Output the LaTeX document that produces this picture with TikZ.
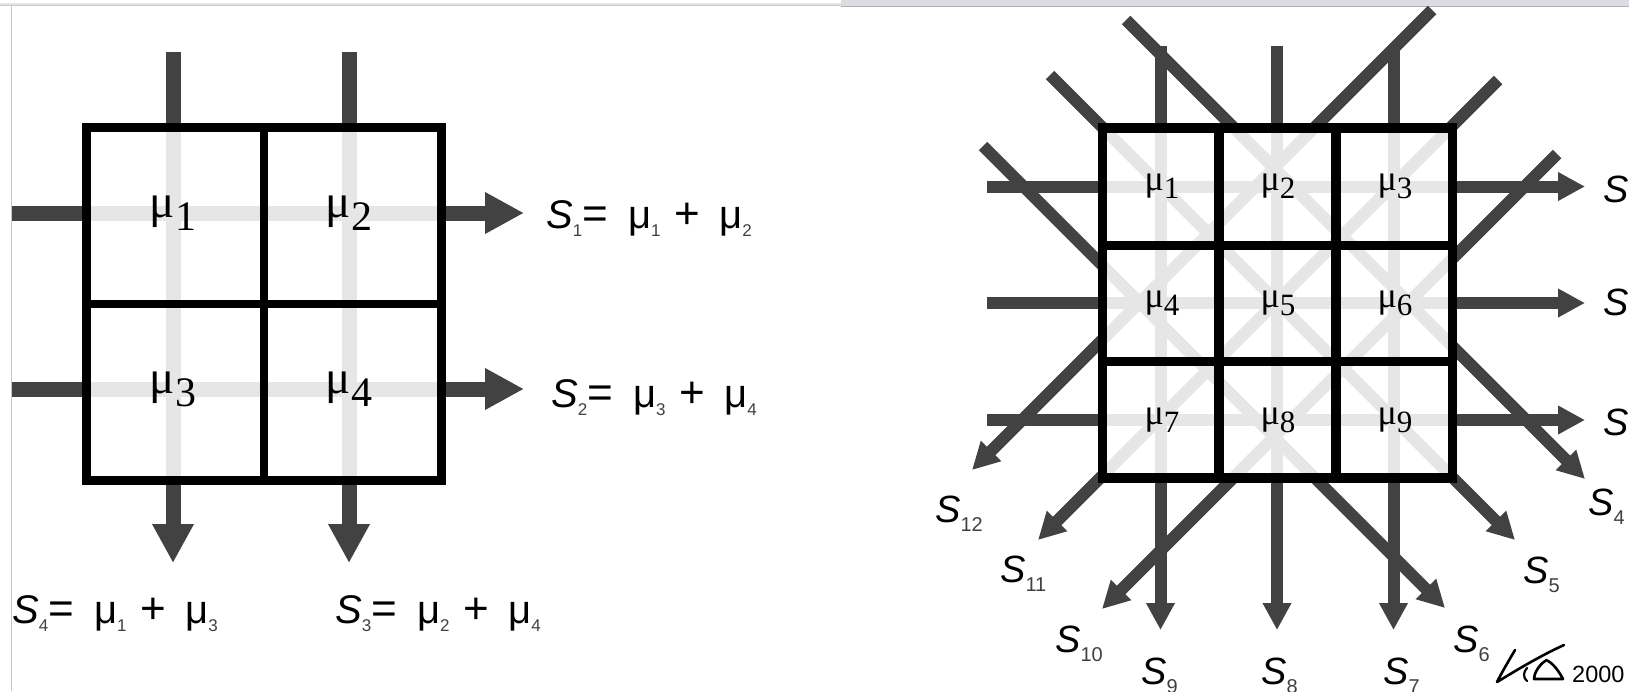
\documentclass[tikz,border=0pt]{standalone}
\usepackage{fontspec}
\setmainfont{Liberation Sans}
\newfontfamily\mufont{Liberation Serif}
\usetikzlibrary{arrows.meta}
\definecolor{darkc}{HTML}{424242}
\definecolor{lightc}{HTML}{E6E6E6}
\definecolor{framec}{HTML}{C8C8C8}
\definecolor{barc}{HTML}{DADDE1}
\newcommand{\subL}[1]{\raisebox{-8pt}{\fontsize{17}{17}\selectfont\color{black!75}#1}}
\newcommand{\subR}[1]{\raisebox{-9pt}{\fontsize{20}{20}\selectfont\color{black!75}#1}}
\newcommand{\bigsym}[1]{{\fontsize{44}{44}\selectfont #1}}
\newcommand{\sumtext}[3]{\textit{S}\subL{#1}\bigsym{=}\hspace{20pt}μ\subL{#2}\hspace{14pt}\bigsym{+}\hspace{19pt}μ\subL{#3}}
\newcommand{\muL}[1]{{\fontsize{47}{47}\selectfont μ}\raisebox{-13pt}{#1}}
\newcommand{\muR}[1]{{\fontsize{36}{36}\selectfont μ}\raisebox{-8pt}{#1}}
\tikzset{
  darkL/.style={draw=darkc, line width=15pt},
  arrL/.style={darkL, -{Triangle[length=39pt,width=39pt]}},
  darkR/.style={draw=darkc, line width=12pt},
  arrR/.style={darkR, -{Triangle[length=27pt,width=27pt]}},
  lightL/.style={draw=lightc, line width=15pt},
  lightR/.style={draw=lightc, line width=12pt},
  gridL/.style={draw=black, line width=8.5pt},
  gridR/.style={draw=black, line width=9.5pt},
  sumL/.style={anchor=base west, inner sep=0pt, font=\fontsize{40}{40}\selectfont},
  sumR/.style={anchor=base west, inner sep=0pt, font=\fontsize{38}{38}\selectfont},
  cellL/.style={inner sep=0pt, font=\mufont\fontsize{42}{42}\selectfont},
  cellR/.style={inner sep=0pt, font=\mufont\fontsize{31}{31}\selectfont},
}
\begin{document}
\begin{tikzpicture}[x=1pt,y=-1pt]
\useasboundingbox (0,0) rectangle (1629,691);
\clip (0,0) rectangle (1629,691);
\fill[white] (0,0) rectangle (1629,691);
% window frame
\fill[black!10] (0,3) rectangle (841,6);
\draw[framec, line width=1.2pt] (0,5.5) -- (841,5.5);
\fill[barc] (841,0) rectangle (1629,6);
\draw[black!30, line width=1pt] (841,6) -- (1629,6);
\draw[framec, line width=1.2pt] (11.5,5.5) -- (11.5,691);

% ================= LEFT DIAGRAM =================
\foreach \n/\x in {1/173,2/349}{
  \coordinate (Lt\n) at (\x,52);
  \coordinate (Lb\n) at (\x,563);
}
\foreach \n/\y in {1/213,2/389}{
  \coordinate (Ll\n) at (12,\y);
  \coordinate (Lr\n) at (524,\y);
}
\draw[arrL] (Lt1) -- (Lb1);
\draw[arrL] (Lt2) -- (Lb2);
\draw[arrL] (Ll1) -- (Lr1);
\draw[arrL] (Ll2) -- (Lr2);
\fill[white] (86.5,127.5) rectangle (441.5,480.5);
\begin{scope}
  \clip (86.5,127.5) rectangle (441.5,480.5);
  \draw[lightL] (173,127.5) -- (173,480.5);
  \draw[lightL] (349,127.5) -- (349,480.5);
  \draw[lightL] (86.5,213) -- (441.5,213);
  \draw[lightL] (86.5,389) -- (441.5,389);
\end{scope}
\node[cellL] (Lm1) at (173,213) {\muL{1}};
\node[cellL] (Lm2) at (349,213) {\muL{2}};
\node[cellL] (Lm3) at (173,389) {\muL{3}};
\node[cellL] (Lm4) at (349,389) {\muL{4}};
\draw[gridL] (86.5,127.5) rectangle (441.5,480.5);
\draw[gridL] (264,127.5) -- (264,480.5);
\draw[gridL] (86.5,304) -- (441.5,304);
\node[sumL] (LS1) at (546,228) {\sumtext{1}{1}{2}};
\node[sumL] (LS2) at (551,407) {\sumtext{2}{3}{4}};
\node[sumL] (LS4) at (12,623) {\sumtext{4}{1}{3}};
\node[sumL] (LS3) at (335,623) {\sumtext{3}{2}{4}};

% ================= RIGHT DIAGRAM =================
\foreach \n/\y in {1/186.5,2/303,3/420}{
  \coordinate (Rl\n) at (987,\y);
  \coordinate (Rr\n) at (1585,\y);
}
\foreach \n/\x in {9/1160.5,8/1277,7/1393.5}{
  \coordinate (Rt\n) at (\x,46);
  \coordinate (Rb\n) at (\x,630);
}
\coordinate (A0) at (1126,20);   \coordinate (A1) at (1585,479);
\coordinate (B0) at (1050,75);   \coordinate (B1) at (1515,540);
\coordinate (C0) at (983,146);   \coordinate (C1) at (1445,608);
\coordinate (D0) at (1432,10);   \coordinate (D1) at (972,470);
\coordinate (E0) at (1498,80);   \coordinate (E1) at (1038,540);
\coordinate (F0) at (1557,154);  \coordinate (F1) at (1102,609);
\foreach \n in {1,2,3}{ \draw[arrR] (Rl\n) -- (Rr\n); }
\foreach \n in {7,8,9}{ \draw[arrR] (Rt\n) -- (Rb\n); }
\foreach \p in {A,B,C,D,E,F}{ \draw[arrR] (\p0) -- (\p1); }
\fill[white] (1102.5,128) rectangle (1452.5,478);
\begin{scope}
  \clip (1102.5,128) rectangle (1452.5,478);
  \foreach \y in {186.5,303,420}{ \draw[lightR] (1102.5,\y) -- (1452.5,\y); }
  \foreach \x in {1160.5,1277,1393.5}{ \draw[lightR] (\x,128) -- (\x,478); }
  \foreach \p in {A,B,C,D,E,F}{ \draw[lightR] (\p0) -- (\p1); }
\end{scope}
\node[cellR] (Rm1) at (1162,186.5) {\muR{1}};
\node[cellR] (Rm2) at (1278,186.5) {\muR{2}};
\node[cellR] (Rm3) at (1395,186.5) {\muR{3}};
\node[cellR] (Rm4) at (1162,303) {\muR{4}};
\node[cellR] (Rm5) at (1278,303) {\muR{5}};
\node[cellR] (Rm6) at (1395,303) {\muR{6}};
\node[cellR] (Rm7) at (1162,420) {\muR{7}};
\node[cellR] (Rm8) at (1278,420) {\muR{8}};
\node[cellR] (Rm9) at (1395,420) {\muR{9}};
\draw[gridR] (1102.5,128) rectangle (1452.5,478);
\draw[gridR] (1219,128) -- (1219,478);
\draw[gridR] (1336,128) -- (1336,478);
\draw[gridR] (1102.5,245.5) -- (1452.5,245.5);
\draw[gridR] (1102.5,361.5) -- (1452.5,361.5);
% labels
\node[sumR] (RS1) at (1603,202) {\textit{S}\subR{1}};
\node[sumR] (RS2) at (1603,315) {\textit{S}\subR{2}};
\node[sumR] (RS3) at (1603,435) {\textit{S}\subR{3}};
\node[sumR] (RS4) at (1588,515) {\textit{S}\subR{4}};
\node[sumR] (RS5) at (1523,583) {\textit{S}\subR{5}};
\node[sumR] (RS6) at (1453,652) {\textit{S}\subR{6}};
\node[sumR] (RS7) at (1383,684) {\textit{S}\subR{7}};
\node[sumR] (RS8) at (1261,684) {\textit{S}\subR{8}};
\node[sumR] (RS9) at (1141,684) {\textit{S}\subR{9}};
\node[sumR] (RS10) at (1055,652) {\textit{S}\subR{10}};
\node[sumR] (RS11) at (1000,582) {\textit{S}\subR{11}};
\node[sumR] (RS12) at (935,522) {\textit{S}\subR{12}};
% signature
\draw[black, line width=2.6pt, line cap=round, line join=round]
  (1515,650) .. controls (1508,662) and (1502,672) .. (1497,682)
  .. controls (1520,668) and (1542,655) .. (1564,645);
\draw[black, line width=2.2pt, line cap=round]
  (1527,668) .. controls (1523,672) and (1523,678) .. (1527,681);
\draw[black, line width=2.6pt, line cap=round, line join=round]
  (1545,661) .. controls (1538,666) and (1534,674) .. (1534,679)
  -- (1563,679) .. controls (1558,670) and (1553,663) .. (1546,660);
\node[anchor=base west, inner sep=0pt, font=\fontsize{23.5}{23.5}\selectfont] (yr) at (1572,682) {2000};
\end{tikzpicture}
\end{document}
